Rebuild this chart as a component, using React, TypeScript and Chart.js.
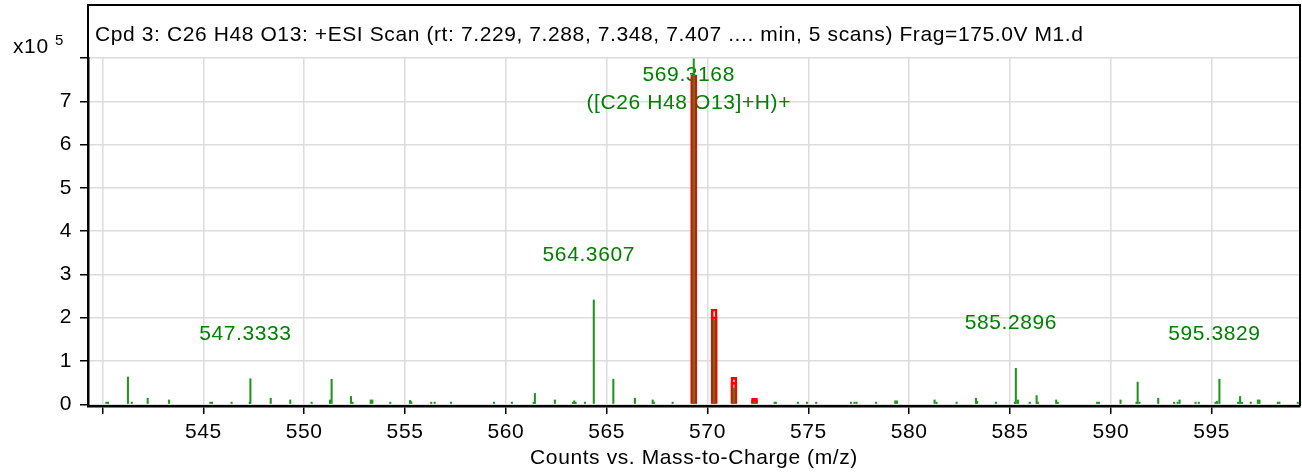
import React, { useEffect, useRef } from 'react';
import { Chart, registerables } from 'chart.js';

Chart.register(...registerables);

const TITLE = 'Cpd 3: C26 H48 O13: +ESI Scan (rt: 7.229, 7.288, 7.348, 7.407 .... min, 5 scans) Frag=175.0V M1.d';
const X_AXIS_TITLE = 'Counts vs. Mass-to-Charge (m/z)';
const Y_MULTIPLIER = 'x10';
const Y_EXPONENT = '5';

// Measured spectrum (counts in units of 10^5)
const peakMz = [
  540.19, 540.27, 541.26, 541.45, 542.24, 543.3, 545.35, 545.43, 546.4, 547.3,
  547.3333, 548.34, 549.31, 550.37, 551.28, 551.36, 552.32, 552.4, 553.3, 553.38,
  554.27, 555.25, 555.31, 556.3, 556.47, 557.28, 559.41, 560.3, 561.38, 561.44,
  562.43, 563.33, 563.39, 563.46, 563.92, 564.3607, 565.33, 566.4, 567.28, 567.34,
  568.27, 569.3168, 570.32, 571.31, 572.33, 573.33, 573.39, 574.48, 574.93, 575.39,
  577.11, 577.29, 577.39, 578.36, 579.31, 579.39, 581.26, 581.36, 582.35, 583.31,
  583.37, 584.3, 585.24, 585.2896, 585.4, 585.98, 586.32, 586.38, 587.29, 587.37,
  589.32, 589.41, 590.48, 591.27, 591.33, 591.42, 592.35, 593.14, 593.31, 593.41,
  594.2, 594.36, 595.19, 595.27, 595.3829, 596.31, 596.41, 596.51, 596.94, 597.29,
  597.37, 598.28, 598.36, 599.27,
];
const peakCounts = [
  0.05, 0.05, 0.63, 0.05, 0.14, 0.1, 0.05, 0.05, 0.05, 0.05,
  0.59, 0.14, 0.1, 0.05, 0.1, 0.58, 0.18, 0.05, 0.1, 0.1,
  0.05, 0.09, 0.06, 0.05, 0.05, 0.05, 0.05, 0.05, 0.05, 0.25,
  0.1, 0.05, 0.08, 0.05, 0.05, 2.41, 0.58, 0.14, 0.1, 0.05,
  0.05, 7.98, 1.95, 0.37, 0.05, 0.05, 0.05, 0.05, 0.05, 0.05,
  0.05, 0.05, 0.05, 0.05, 0.08, 0.08, 0.1, 0.05, 0.05, 0.14,
  0.07, 0.05, 0.05, 0.83, 0.1, 0.05, 0.2, 0.05, 0.1, 0.05,
  0.05, 0.05, 0.1, 0.05, 0.51, 0.05, 0.14, 0.05, 0.05, 0.1,
  0.05, 0.05, 0.05, 0.07, 0.58, 0.05, 0.18, 0.05, 0.05, 0.1,
  0.1, 0.05, 0.05, 0.05,
];

// Predicted isotope pattern boxes
const isoMz = [569.32, 570.33, 571.31, 572.33];
const isoOuter = [7.6, 2.2, 0.62, 0.14];
const isoInner = [7.55, 2.02, 0.51, 0.1];

// Peak annotations
const labelMz = [547.3333, 564.3607, 569.3168, 585.2896, 595.3829];
const labelCounts = [0.59, 2.41, 7.98, 0.83, 0.58];
const labelLines = [
  ['547.3333'],
  ['564.3607'],
  ['569.3168', '([C26 H48 O13]+H)+'],
  ['585.2896'],
  ['595.3829'],
];

// Axes
const xTicks = [540, 545, 550, 555, 560, 565, 570, 575, 580, 585, 590, 595];
const xTickLabels = ['', '545', '550', '555', '560', '565', '570', '575', '580', '585', '590', '595'];
const yTicks = [0, 1, 2, 3, 4, 5, 6, 7, 8];
const yTickLabels = ['0', '1', '2', '3', '4', '5', '6', '7', ''];
const X_MIN = 539.28;
const X_MAX = 599.38;
const Y_MIN = -0.04;
const Y_MAX = 8;

const FONT = '"Liberation Sans", Arial, sans-serif';
const GREEN_TEXT = 'rgb(0,128,0)';
const GREEN_STICK = 'rgb(30,150,30)';
const RED = '#ff0000';
const GRID = '#dcdcdc';
const FRAME_TOP = 5;
const SPACING = '0.6px';

export default function App() {
  const ref = useRef<HTMLCanvasElement>(null);

  useEffect(() => {
    const canvas = ref.current;
    if (!canvas) return;

    const framePlugin = {
      id: 'frameAndText',
      beforeDraw(chart: any) {
        chart.ctx.letterSpacing = SPACING;
      },
      beforeDatasetsDraw(chart: any) {
        const { ctx, chartArea, scales } = chart;
        ctx.save();
        ctx.letterSpacing = SPACING;
        ctx.fillStyle = GREEN_TEXT;
        ctx.font = `21px ${FONT}`;
        ctx.textAlign = 'center';
        ctx.textBaseline = 'middle';
        labelMz.forEach((mz, i) => {
          const px = scales.x.getPixelForValue(mz) - 5;
          const py = scales.y.getPixelForValue(labelCounts[i]);
          const lines = labelLines[i];
          const lh = 28;
          const bottom = py - 45;
          let top = bottom - (lines.length - 1) * lh;
          if (top < chartArea.top + 17) top = chartArea.top + 17;
          lines.forEach((t, j) => ctx.fillText(t, px, top + j * lh));
        });
        ctx.restore();
      },
      afterDraw(chart: any) {
        const { ctx, chartArea } = chart;
        ctx.save();
        ctx.strokeStyle = '#000';
        ctx.lineWidth = 2;
        ctx.beginPath();
        ctx.moveTo(chartArea.left, chartArea.bottom);
        ctx.lineTo(chartArea.left, FRAME_TOP);
        ctx.lineTo(chartArea.right, FRAME_TOP);
        ctx.lineTo(chartArea.right, chartArea.bottom);
        ctx.stroke();

        ctx.fillStyle = '#000';
        ctx.letterSpacing = SPACING;
        ctx.font = `21px ${FONT}`;
        ctx.textAlign = 'left';
        ctx.textBaseline = 'middle';
        ctx.fillText(TITLE, chartArea.left + 7, 35);

        ctx.fillText(Y_MULTIPLIER, 13, 47);
        ctx.font = `15px ${FONT}`;
        ctx.fillText(Y_EXPONENT, 55, 41);
        ctx.restore();
        ctx.letterSpacing = '0px';
      },
    };

    const chart = new Chart(canvas, {
      type: 'bar',
      data: {
        datasets: [
          {
            label: 'Spectrum',
            data: peakMz.map((x, i) => ({ x, y: peakCounts[i] })),
            backgroundColor: GREEN_STICK,
            borderWidth: 0,
            barThickness: 1.4,
            grouped: false,
          } as any,
          {
            label: 'Isotope inner',
            data: isoMz.map((x, i) => ({ x, y: isoInner[i] })),
            backgroundColor: 'rgba(0,0,0,0)',
            borderColor: RED,
            borderWidth: 2,
            borderSkipped: false,
            barThickness: 6,
            grouped: false,
          } as any,
          {
            label: 'Isotope outer',
            data: isoMz.map((x, i) => ({ x, y: isoOuter[i] })),
            backgroundColor: 'rgba(0,0,0,0)',
            borderColor: RED,
            borderWidth: 2,
            borderSkipped: false,
            barThickness: 6,
            grouped: false,
          } as any,
        ],
      },
      options: {
        animation: false,
        responsive: true,
        maintainAspectRatio: false,
        layout: { padding: { left: 0, right: 2, top: 58, bottom: 0 } },
        plugins: {
          legend: { display: false },
          tooltip: { enabled: false },
          title: { display: false },
        },
        scales: {
          x: {
            type: 'linear',
            min: X_MIN,
            max: X_MAX,
            offset: false,
            afterBuildTicks: (s: any) => {
              s.ticks = xTicks.map((v) => ({ value: v }));
            },
            afterFit: (s: any) => {
              s.height = 67;
            },
            grid: {
              offset: false,
              color: GRID,
              lineWidth: 1.5,
              tickColor: '#000',
              tickLength: 8,
              tickWidth: 1.5,
            },
            border: { color: '#000', width: 2.5 },
            ticks: {
              autoSkip: false,
              maxRotation: 0,
              padding: 6,
              color: '#000',
              font: { family: FONT, size: 21 },
              callback: (_v: any, i: number) => xTickLabels[i],
            },
            title: {
              display: true,
              text: X_AXIS_TITLE,
              color: '#000',
              font: { family: FONT, size: 21 },
              padding: { top: 0, bottom: 2 },
            },
          },
          y: {
            type: 'linear',
            min: Y_MIN,
            max: Y_MAX,
            afterBuildTicks: (s: any) => {
              s.ticks = yTicks.map((v) => ({ value: v }));
            },
            afterFit: (s: any) => {
              s.width = 88;
            },
            grid: {
              offset: false,
              color: GRID,
              lineWidth: 1.5,
              tickColor: '#000',
              tickLength: 8,
              tickWidth: 1.5,
            },
            border: { color: '#000', width: 2.5 },
            ticks: {
              autoSkip: false,
              padding: 8,
              color: '#000',
              font: { family: FONT, size: 21 },
              callback: (_v: any, i: number) => yTickLabels[i],
            },
          },
        },
      } as any,
      plugins: [framePlugin],
    });

    return () => chart.destroy();
  }, []);

  return (
    <div style={{ position: 'absolute', left: 0, top: 0, width: 1302, height: 473, background: '#fff' }}>
      <canvas ref={ref} />
    </div>
  );
}
